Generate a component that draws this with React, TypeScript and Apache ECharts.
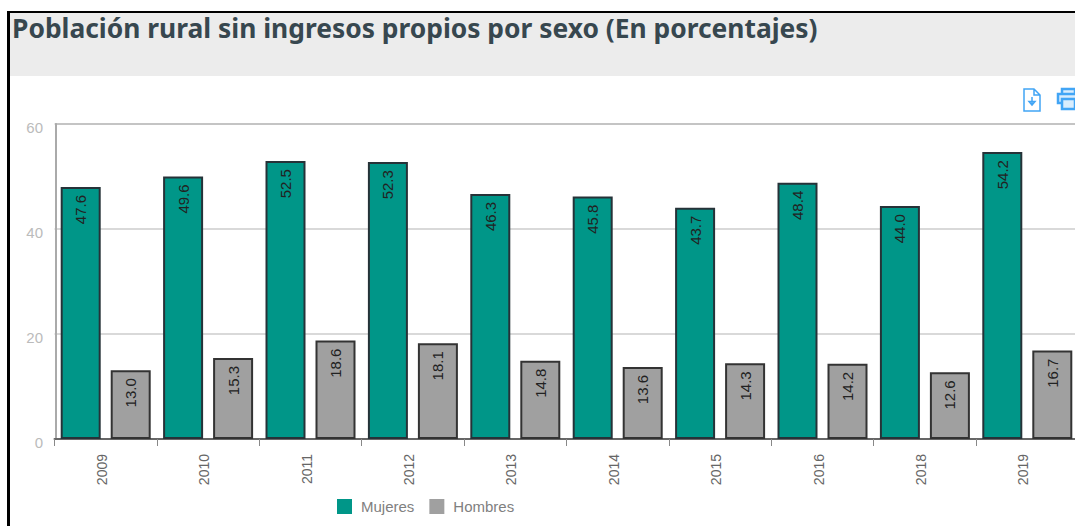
import React, { useEffect, useRef } from "react";
import * as echarts from "echarts";

const categories = ["2009", "2010", "2011", "2012", "2013", "2014", "2015", "2016", "2018", "2019"];
const mujeres = [47.6, 49.6, 52.5, 52.3, 46.3, 45.8, 43.7, 48.4, 44.0, 54.2];
const hombres = [13.0, 15.3, 18.6, 18.1, 14.8, 13.6, 14.3, 14.2, 12.6, 16.7];
const yTicks = { min: 0, max: 60, interval: 20 };
const titleText = "Población rural sin ingresos propios por sexo (En porcentajes)";

echarts.graphic.registerShape(
  "fileIcon",
  echarts.graphic.extendPath(
    "M1 1H11L17 7V23H1ZM11 1V7H17M9 9V16M6 13.5L9 17L12 13.5Z",
    {}
  )
);
echarts.graphic.registerShape(
  "printIcon",
  echarts.graphic.extendPath(
    "M5 6V1H18V6M5 15H1V6H20V15M5 11H18V21H5Z",
    {}
  )
);

const barLabel = {
  show: true,
  position: "insideTop" as const,
  rotate: 90,
  align: "right" as const,
  verticalAlign: "middle" as const,
  offset: [-3, 0],
  color: "#222",
  fontFamily: "Liberation Sans",
  fontSize: 15,
  formatter: (p: any) => Number(p.value).toFixed(1),
};

export default function App() {
  const ref = useRef<HTMLDivElement>(null);
  useEffect(() => {
    const chart = echarts.init(ref.current!, undefined, { renderer: "svg" });
    chart.setOption({
      animation: false,
      backgroundColor: "#fff",
      grid: { left: 54.5, top: 124, width: 1024, height: 315, containLabel: false, outerBoundsMode: "none" },
      legend: {
        left: 337,
        top: 499,
        padding: 0,
        itemWidth: 15,
        itemHeight: 15,
        itemGap: 15,
        icon: "rect",
        data: ["Mujeres", "Hombres"],
        textStyle: {
          color: "#808080",
          fontFamily: "Liberation Sans",
          fontSize: 15,
          padding: [0, 0, 0, 4],
        },
        itemStyle: { borderWidth: 0 },
      },
      xAxis: {
        type: "category",
        data: categories,
        axisLine: { show: true, lineStyle: { color: "#666", width: 2 } },
        axisTick: { show: true, alignWithLabel: false, length: 7, lineStyle: { color: "#888", width: 1 } },
        axisLabel: {
          rotate: 90,
          color: "#666",
          fontFamily: "Liberation Sans",
          fontSize: 14,
          margin: 15,
          verticalAlign: "bottom",
          lineHeight: 8,
        },
      },
      yAxis: [
        {
          type: "value",
          ...yTicks,
          offset: -1.5,
          axisLine: { show: true, lineStyle: { color: "#aaa", width: 2 } },
          axisTick: { show: false },
          axisLabel: {
            color: "#bbb",
            fontFamily: "Liberation Sans",
            fontSize: 15,
            margin: 13,
            verticalAlign: "top",
            lineHeight: 7,
          },
          splitLine: { show: true, lineStyle: { color: "#ccc", width: 1.5 } },
        },
        { type: "value", min: 0, max: 59.5, show: false, splitLine: { show: false } },
      ],
      series: [
        {
          name: "Mujeres",
          type: "bar",
          yAxisIndex: 1,
          data: mujeres,
          barWidth: 40,
          barGap: "25%",
          itemStyle: { color: "#009688", borderColor: "#263238", borderWidth: 2 },
          label: barLabel,
        },
        {
          name: "Hombres",
          type: "bar",
          yAxisIndex: 1,
          data: hombres,
          barWidth: 40,
          itemStyle: { color: "#a0a0a0", borderColor: "#333", borderWidth: 2 },
          label: barLabel,
        },
      ],
      graphic: [
        { type: "rect", silent: true, z: -1, shape: { x: 8, y: 12, width: 1067, height: 64 }, style: { fill: "#ececec" } },
        { type: "rect", silent: true, shape: { x: 7, y: 11, width: 1068, height: 2 }, style: { fill: "#000" } },
        { type: "rect", silent: true, shape: { x: 7, y: 11, width: 3, height: 515 }, style: { fill: "#000" } },
        { type: "rect", silent: true, shape: { x: 55, y: 123, width: 1020, height: 2 }, style: { fill: "#aaa" } },
        {
          type: "text",
          x: 12,
          y: 15,
          style: {
            text: titleText,
            fill: "#37474f",
            font: "bold 26.4px 'Noto Sans'",
          },
        },
        {
          type: "fileIcon",
          x: 1023,
          y: 88,
          style: { fill: "none", stroke: "#42a5f5", lineWidth: 1.5 },
        },
        {
          type: "printIcon",
          x: 1057,
          y: 88,
          style: { fill: "rgba(66,165,245,0.2)", stroke: "#42a5f5", lineWidth: 2.5 },
        },
      ],
    });
    return () => chart.dispose();
  }, []);
  return <div ref={ref} style={{ position: "absolute", left: 0, top: 0, width: 1075, height: 526 }} />;
}
